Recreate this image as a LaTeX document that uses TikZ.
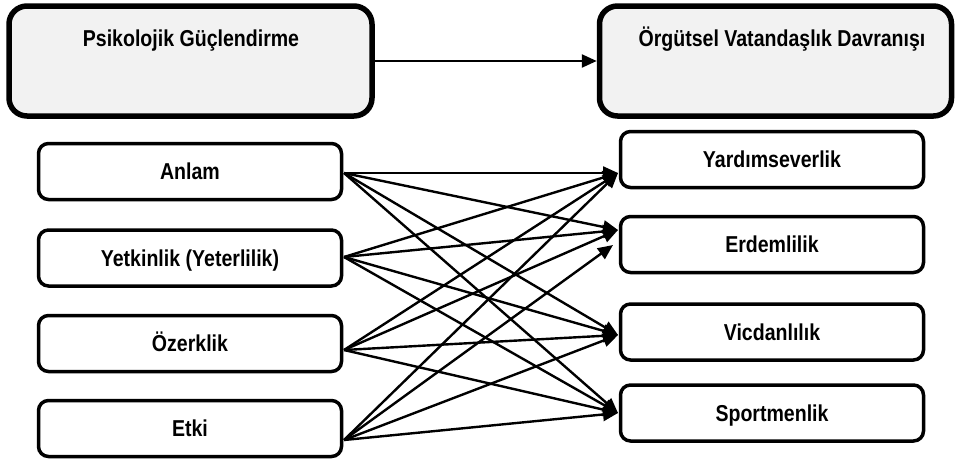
\documentclass[tikz,border=0pt]{standalone}
\usepackage{fontspec}
\setmainfont{Liberation Sans}[FakeStretch=0.85]
\usetikzlibrary{arrows.meta}
\definecolor{boxgray}{HTML}{F2F2F2}
\begin{document}
\begin{tikzpicture}[x=1pt,y=-1pt,
  txt/.style={font=\fontsize{23}{27}\selectfont\bfseries},
  bigbox/.style={draw, line width=5.5pt, rounded corners=18pt, fill=boxgray, minimum height=110pt, inner sep=0pt},
  smallbox/.style={txt, draw, line width=3.5pt, rounded corners=10pt, fill=white, minimum width=303pt, minimum height=56pt, text height=16.5pt, text depth=0pt, inner sep=0pt},
  lbl/.style={txt, anchor=base, inner sep=0pt},
  conn/.style={line width=2.4pt, -{Triangle[length=15pt,width=13pt]}}]
\useasboundingbox (0,0) rectangle (955,464);
% top boxes
\node[bigbox, minimum width=363pt] (pg) at (190.5,61) {};
\node[bigbox, minimum width=352pt] (ovd) at (775.5,61) {};
\node[lbl] (pgt) at (191,46) {Psikolojik Güçlendirme};
\node[lbl] (ovdt) at (782,46) {Örgütsel Vatandaşlık Davranışı};
\draw[conn] (pg.east) -- (ovd.west);
% left boxes
\node[smallbox] (anlam) at (190,171.5) {Anlam};
\node[smallbox] (yet) at (190,258) {Yetkinlik (Yeterlilik)};
\node[smallbox] (oz) at (190,343.5) {Özerklik};
\node[smallbox] (etki) at (190,428.5) {Etki};
% right boxes
\node[smallbox] (yard) at (772,159.5) {Yardımseverlik};
\node[smallbox] (erd) at (772,244.5) {Erdemlilik};
\node[smallbox] (vic) at (772,332) {Vicdanlılık};
\node[smallbox] (spor) at (772,413) {Sportmenlik};
% connector end points
\coordinate (sA) at (344,173);
\coordinate (sY) at (344,257);
\coordinate (sO) at (344,350);
\coordinate (sE) at (344,440);
\coordinate (tY) at (618,173);
\coordinate (tE) at (618,230);
\coordinate (tE2) at (613,245);
\coordinate (tV) at (618,335);
\coordinate (tS) at (618,413);
\foreach \s in {sA,sY,sO,sE}{
  \draw[conn] (\s) -- (tY);
  \draw[conn] (\s) -- (tV);
  \draw[conn] (\s) -- (tS);
}
\draw[conn] (sA) -- (tE);
\draw[conn] (sY) -- (tE);
\draw[conn] (sO) -- (tE);
\draw[conn] (sE) -- (tE2);
\end{tikzpicture}
\end{document}
